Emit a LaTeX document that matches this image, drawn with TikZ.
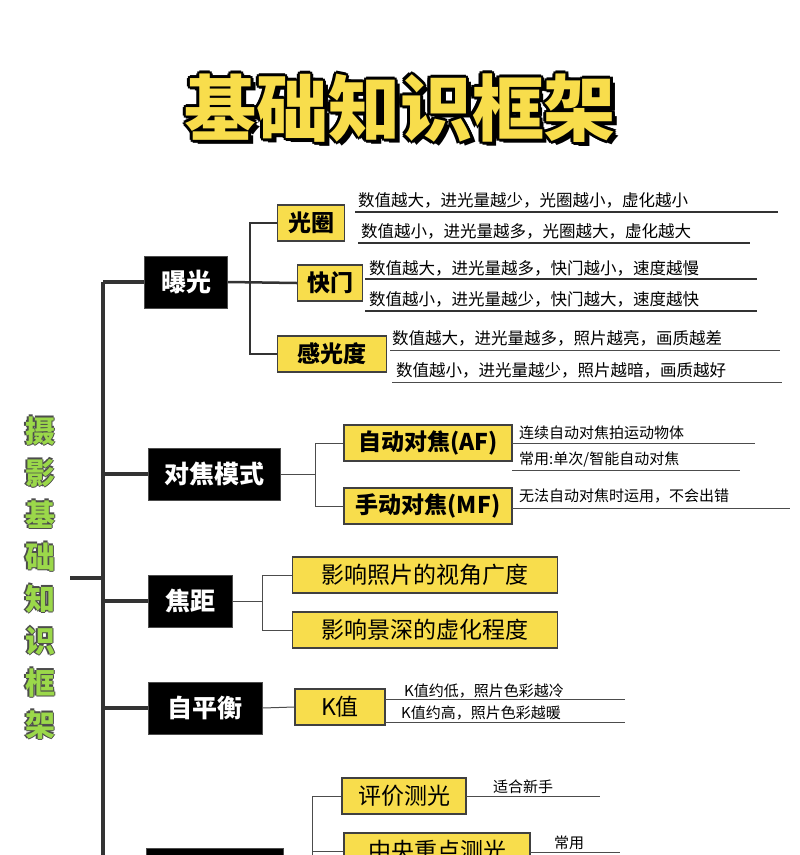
\documentclass[tikz,border=0pt]{standalone}
\usepackage{fontspec}
\setmainfont{Noto Sans CJK SC}
\begin{document}
\begin{tikzpicture}[x=1pt,y=-1pt,
  blk/.style={fill=black,draw=gray!60!black,line width=1pt,text=white,font=\fontsize{25}{25}\selectfont\bfseries,inner sep=0pt,minimum height=52pt},
  yel/.style={fill=ybox,draw=black!75,line width=1.2pt,text=black,font=\fontsize{23}{23}\selectfont\bfseries,inner sep=0pt,minimum height=36pt},
  txt/.style={anchor=south west,inner sep=1pt,font=\fontsize{16.5}{17}\selectfont},
  stxt/.style={anchor=south west,inner sep=1pt,font=\fontsize{15}{16}\selectfont},
  trunk/.style={line width=4pt,draw=black!80},
  br/.style={line width=2.5pt,draw=black!80},
  ul/.style={line width=2pt,draw=black!80},
  thin/.style={line width=1pt,draw=black!70}]
\definecolor{ybox}{HTML}{F8DD4C}
\definecolor{gtxt}{HTML}{9BD84A}
\useasboundingbox (0,0) rectangle (800,855);
\fill[white] (0,0) rectangle (800,855);
% title
\foreach \dx/\dy in {-3/0,3/0,0/-3,0/3,-2/-2,2/2,-2/2,2/-2,5/4}
  \node[font=\fontsize{72}{72}\selectfont\bfseries,text=black] at (400+\dx,108+\dy) {基础知识框架};
\node[font=\fontsize{72}{72}\selectfont\bfseries,text=ybox] (title) at (400,108) {基础知识框架};
% side text
\foreach \dx/\dy in {-1.5/0,1.5/0,0/-1.5,0/1.5}
  \node[font=\fontsize{30}{42}\selectfont\bfseries,text=black!70,align=center] at (40+\dx,578+\dy) {摄\\影\\基\\础\\知\\识\\框\\架};
\node[font=\fontsize{30}{42}\selectfont\bfseries,text=gtxt,align=center] (side) at (40,578) {摄\\影\\基\\础\\知\\识\\框\\架};
\coordinate (ttop) at (103,282);
\coordinate (tbot) at (103,860);
\coordinate (tmid) at (103,578);
\draw[trunk] (ttop) -- (tbot);
\draw[trunk] (70,578) -- (tmid);
% main boxes
\node[blk,minimum width=83pt] (bg) at (186,282) {曝光};
\node[blk,minimum width=132pt] (dj) at (214,474) {对焦模式};
\node[blk,minimum width=84pt] (jj) at (190,601) {焦距};
\node[blk,minimum width=114pt] (bph) at (205,708) {自平衡};
\node[blk,minimum width=137pt,anchor=north west] (cg) at (146,848) {};
\foreach \n in {bg,dj,jj,bph} \draw[trunk] (ttop|-\n.west) -- (\n.west);
\draw[trunk] (ttop|-cg.west) -- (cg.west);
% exposure
\node[yel,minimum width=67pt] (gq) at (311,223) {光圈};
\node[yel,minimum width=65pt] (km) at (330,283) {快门};
\node[yel,minimum width=109pt] (gg) at (332,354) {感光度};
\coordinate (v1) at (250,223);
\coordinate (v2) at (250,354);
\draw[br] (bg.east) -- (km.west);
\draw[br] (gq.west) -- (v1) -- (v2) -- (gg.west);
\node[txt] (g1) at (357,209) {数值越大，进光量越少，光圈越小，虚化越小};
\node[txt] (g2) at (360,240) {数值越小，进光量越多，光圈越大，虚化越大};
\draw[ul] (355,212) -- (778,212); \draw[ul] (358,243) -- (750,243);
\node[txt] (k1) at (368,277) {数值越大，进光量越多，快门越小，速度越慢};
\node[txt] (k2) at (368,308) {数值越小，进光量越少，快门越大，速度越快};
\draw[ul] (365,279) -- (757,279); \draw[ul] (365,311) -- (757,311);
\node[txt] (s1) at (391,347) {数值越大，进光量越多，照片越亮，画质越差};
\node[txt] (s2) at (395,379) {数值越小，进光量越少，照片越暗，画质越好};
\draw[thin] (390,350) -- (780,350); \draw[thin] (392,382) -- (782,382);
% focus
\node[yel,minimum width=168pt] (af) at (428,443) {自动对焦(AF)};
\node[yel,minimum width=168pt] (mf) at (428,506) {手动对焦(MF)};
\coordinate (f1) at (315,443); \coordinate (f2) at (315,506);
\draw[thin] (dj.east) -- (dj.east-|f1);
\draw[thin] (af.west) -- (f1) -- (f2) -- (mf.west);
\node[stxt] at (518,441) {连续自动对焦拍运动物体};
\node[stxt] at (518,468) {常用:单次/智能自动对焦};
\draw[thin] (512,443) -- (755,443); \draw[thin] (512,470) -- (740,470);
\node[stxt] at (518,504) {无法自动对焦时运用，不会出错};
\draw[thin] (512,508) -- (790,508);
% focal
\node[yel,minimum width=265pt,font=\fontsize{23}{23}\selectfont] (j1) at (425,575) {影响照片的视角广度};
\node[yel,minimum width=265pt,font=\fontsize{23}{23}\selectfont] (j2) at (425,630) {影响景深的虚化程度};
\coordinate (h1) at (262,575); \coordinate (h2) at (262,630);
\draw[thin] (jj.east) -- (jj.east-|h1);
\draw[thin] (j1.west) -- (h1) -- (h2) -- (j2.west);
% WB
\node[yel,minimum width=90pt,font=\fontsize{23}{23}\selectfont] (kz) at (340,707) {K值};
\draw[thin] (bph.east) -- (kz.west);
\node[stxt] at (403,699) {K值约低，照片色彩越冷};
\node[stxt] at (400,721) {K值约高，照片色彩越暖};
\draw[thin] (385,699) -- (625,699); \draw[thin] (385,722) -- (625,722);
% metering
\node[yel,minimum width=124pt,font=\fontsize{23}{23}\selectfont] (pj) at (404,796) {评价测光};
\node[yel,minimum width=186pt,font=\fontsize{23}{23}\selectfont] (zy) at (437,851) {中央重点测光};
\coordinate (m1) at (312,796); \coordinate (m2) at (312,860);
\draw[thin] (pj.west) -- (m1) -- (m2);
\draw[thin] (m1|-zy.west) -- (zy.west);
\node[stxt] at (492,795) {适合新手};
\node[stxt] at (553,851) {常用};
\draw[thin] (466,796) -- (600,796); \draw[thin] (530,852) -- (620,852);
\end{tikzpicture}
\end{document}
